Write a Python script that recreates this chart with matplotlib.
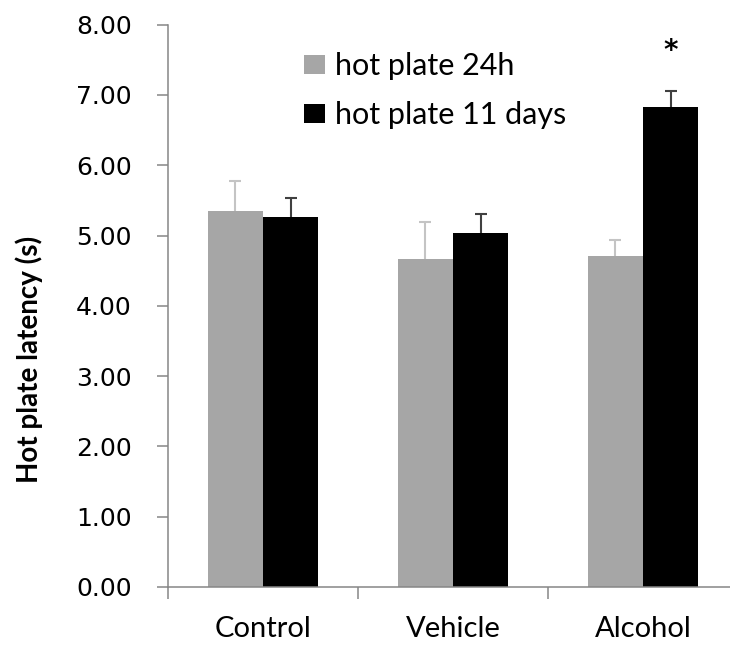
import numpy as np
import matplotlib
matplotlib.use("Agg")
import matplotlib.pyplot as plt
from matplotlib.patches import Patch
from matplotlib.ticker import FixedLocator

# latency means and SEM (s)
groups = ["Control", "Vehicle", "Alcohol"]
hp_24h = [5.35, 4.67, 4.71]
hp_24h_sem = [0.43, 0.52, 0.23]
hp_11d = [5.27, 5.04, 6.83]
hp_11d_sem = [0.26, 0.26, 0.23]
series_names = ["hot plate 24h", "hot plate 11 days"]
yticks = [0, 1, 2, 3, 4, 5, 6, 7, 8]

GRAY = "#a6a6a6"
AXCOL = "#868686"

fig = plt.figure(figsize=(7.3, 6.51), dpi=100)
# x axis runs past the right edge of the page
ax = fig.add_axes([168 / 730, 64 / 651, 570 / 730, 562.3 / 651])

x = np.arange(len(groups))
w = 0.29

ax.bar(x - w / 2, hp_24h, w, color=GRAY, zorder=2)
ax.bar(x + w / 2, hp_11d, w, color="black", zorder=2)

# upper error bars only, lower caps hidden
for xs, ys, err, col in [(x - w / 2, hp_24h, hp_24h_sem, "#c4c4c4"),
                         (x + w / 2, hp_11d, hp_11d_sem, "#404040")]:
    eb = ax.errorbar(xs, ys, yerr=[np.zeros(len(err)), err], fmt="none",
                     ecolor=col, elinewidth=1.5, capsize=4, capthick=1.5, zorder=1)
    eb[1][0].set_visible(False)

# significance mark over alcohol 11 days
ax.text(x[2] + w / 2, hp_11d[2] + hp_11d_sem[2] + 0.56, "*", ha="center", va="center",
        fontsize=20, fontweight="bold", family="DejaVu Sans")

ax.set_xlim(-0.5, 2.5)
ax.set_ylim(0, 8)

ax.set_yticks(yticks)
ax.set_yticklabels(["%.2f" % v for v in yticks], family="DejaVu Sans", fontsize=18)
ax.tick_params(axis="y", direction="out", length=8, width=1.1, color=AXCOL, pad=18)

ax.set_xticks(x)
ax.set_xticklabels(groups, family="Lato", fontsize=21)
ax.xaxis.set_minor_locator(FixedLocator([-0.5, 0.5, 1.5, 2.5]))
ax.tick_params(axis="x", which="major", length=0, pad=21)
ax.tick_params(axis="x", which="minor", direction="out", length=8.6, width=1.1, color=AXCOL)

for side in ["top", "right"]:
    ax.spines[side].set_visible(False)
for side in ["left", "bottom"]:
    ax.spines[side].set_color(AXCOL)
    ax.spines[side].set_linewidth(1.1)

ax.set_ylabel("Hot plate latency (s)", family="Lato", fontweight="bold", fontsize=20)
ax.yaxis.set_label_coords(-0.22, 0.405)

handles = [Patch(facecolor=GRAY), Patch(facecolor="black")]
ax.legend(handles, series_names, loc="upper left", bbox_to_anchor=(0.2386, 0.951),
          frameon=False, prop={"family": "Lato", "size": 22},
          handlelength=0.68, handleheight=0.55, handletextpad=0.33, labelspacing=0.69,
          borderaxespad=0, borderpad=0)

fig.savefig("out.png", dpi=100)
